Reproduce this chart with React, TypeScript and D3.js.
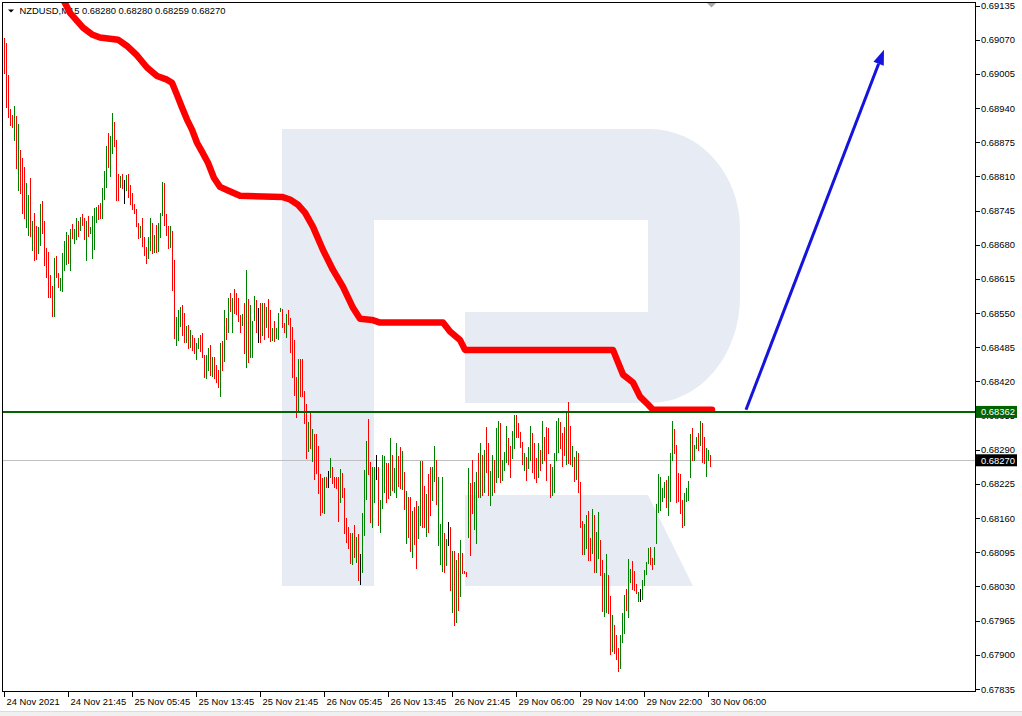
import React from "react";
import * as d3 from "d3";

// ---------------- DATA ----------------
const barHigh = [
  0.69074, 0.69064, 0.69003, 0.68939, 0.68927, 0.68944, 0.68924, 0.6891, 0.68861, 0.68845,
  0.68828, 0.68798, 0.68775, 0.68806, 0.68726, 0.68741, 0.68716, 0.68714, 0.68758, 0.68764,
  0.68726, 0.68674, 0.68667, 0.68623, 0.68602, 0.68655, 0.68659, 0.68627, 0.68617, 0.68665,
  0.68688, 0.68705, 0.68699, 0.6871, 0.6872, 0.6871, 0.68731, 0.68726, 0.68733, 0.68739,
  0.68731, 0.68726, 0.68735, 0.68714, 0.68735, 0.6875, 0.68752, 0.68756, 0.6876, 0.68788,
  0.68821, 0.68868, 0.68893, 0.68887, 0.68931, 0.68914, 0.6888, 0.68815, 0.68811, 0.68815,
  0.68804, 0.68813, 0.68815, 0.68794, 0.68779, 0.68758, 0.68747, 0.68722, 0.68716, 0.68731,
  0.68695, 0.68676, 0.68695, 0.68731, 0.68722, 0.68699, 0.68718, 0.68722, 0.68741, 0.688,
  0.68798, 0.68739, 0.68716, 0.68716, 0.68707, 0.6865, 0.68543, 0.68556, 0.68562, 0.68566,
  0.68551, 0.68526, 0.68528, 0.68518, 0.68509, 0.68503, 0.68494, 0.68503, 0.68509, 0.68513,
  0.68471, 0.68471, 0.68484, 0.6849, 0.68467, 0.68467, 0.68452, 0.68442, 0.68494, 0.68497,
  0.68556, 0.68541, 0.68579, 0.68589, 0.68579, 0.68596, 0.68589, 0.68579, 0.68547, 0.68549,
  0.6857, 0.68631, 0.68577, 0.68566, 0.68535, 0.68583, 0.68575, 0.6856, 0.6857, 0.6857,
  0.6857, 0.68562, 0.68577, 0.68556, 0.68522, 0.68535, 0.68522, 0.68551, 0.6856, 0.68558,
  0.68532, 0.68549, 0.68556, 0.68541, 0.68524, 0.68499, 0.68429, 0.68463, 0.68463, 0.68463,
  0.68402, 0.68378, 0.68343, 0.68362, 0.6833, 0.6832, 0.6832, 0.68298, 0.68244, 0.68237,
  0.68239, 0.68239, 0.6825, 0.68275, 0.68258, 0.68239, 0.68239, 0.68239, 0.68254, 0.68246,
  0.68218, 0.68161, 0.68144, 0.68132, 0.68132, 0.68146, 0.68125, 0.6813, 0.68092, 0.6817,
  0.68252, 0.68307, 0.68349, 0.68267, 0.68258, 0.68258, 0.68281, 0.68258, 0.68195, 0.68281,
  0.68279, 0.68265, 0.68265, 0.68313, 0.68281, 0.68256, 0.68302, 0.68279, 0.68296, 0.68288,
  0.68248, 0.68212, 0.68201, 0.68201, 0.68174, 0.68182, 0.68193, 0.68184, 0.68269, 0.68269,
  0.68222, 0.68206, 0.68244, 0.68258, 0.68258, 0.68298, 0.68271, 0.68239, 0.68149, 0.68239,
  0.68132, 0.68121, 0.68153, 0.68144, 0.68098, 0.68098, 0.68081, 0.68094, 0.68119, 0.68094,
  0.6806, 0.68058, 0.68256, 0.68227, 0.68271, 0.68229, 0.68248, 0.68284, 0.68303, 0.68281,
  0.6829, 0.68334, 0.68303, 0.6825, 0.68281, 0.68271, 0.68332, 0.68345, 0.6834, 0.68271,
  0.68286, 0.68336, 0.68313, 0.68298, 0.68326, 0.68357, 0.68357, 0.68341, 0.68324, 0.68305,
  0.68284, 0.68277, 0.68296, 0.68336, 0.68322, 0.68303, 0.68275, 0.68302, 0.6829, 0.68345,
  0.68315, 0.68334, 0.68332, 0.68263, 0.68258, 0.68284, 0.68345, 0.68351, 0.68343, 0.68322,
  0.68334, 0.6836, 0.68381, 0.68336, 0.68298, 0.68277, 0.68288, 0.68284, 0.68229, 0.68155,
  0.68149, 0.68166, 0.68174, 0.68123, 0.68178, 0.68165, 0.68134, 0.68172, 0.68119, 0.68081,
  0.68056, 0.68092, 0.68052, 0.68011, 0.67976, 0.67957, 0.67938, 0.67913, 0.67938, 0.6798,
  0.68014, 0.68026, 0.68083, 0.68064, 0.68079, 0.6806, 0.68035, 0.6802, 0.68026, 0.68043,
  0.68062, 0.68077, 0.68104, 0.68106, 0.68085, 0.68106, 0.68187, 0.68243, 0.68239, 0.68218,
  0.68229, 0.68233, 0.68241, 0.68283, 0.68345, 0.6833, 0.683, 0.68246, 0.68244, 0.68195,
  0.68208, 0.68218, 0.68231, 0.6832, 0.68332, 0.683, 0.68315, 0.68322, 0.68345, 0.6834,
  0.68315, 0.68294, 0.6829, 0.6828,
];

const barLow = [
  0.69007, 0.68941, 0.68922, 0.68908, 0.68904, 0.6888, 0.68826, 0.68785, 0.68779, 0.68741,
  0.68731, 0.68714, 0.68699, 0.68697, 0.6867, 0.68651, 0.68653, 0.68665, 0.6868, 0.68703,
  0.68642, 0.68619, 0.68581, 0.68581, 0.68545, 0.68545, 0.68619, 0.686, 0.68594, 0.68592,
  0.68632, 0.68644, 0.68646, 0.68632, 0.68693, 0.68684, 0.6869, 0.68697, 0.68708, 0.68718,
  0.68691, 0.68651, 0.68697, 0.68703, 0.68655, 0.68672, 0.68724, 0.68729, 0.68731, 0.68731,
  0.68767, 0.6879, 0.68828, 0.68811, 0.68855, 0.68868, 0.68766, 0.68766, 0.6879, 0.68787,
  0.6876, 0.68785, 0.68771, 0.68758, 0.68747, 0.68741, 0.68716, 0.68693, 0.68695, 0.68678,
  0.68661, 0.68646, 0.68655, 0.6867, 0.68665, 0.68667, 0.68667, 0.68669, 0.68695, 0.68737,
  0.68718, 0.68699, 0.68674, 0.68676, 0.68594, 0.68503, 0.6849, 0.68499, 0.68526, 0.68509,
  0.68495, 0.68495, 0.68484, 0.68486, 0.6848, 0.68475, 0.68463, 0.68484, 0.68478, 0.68467,
  0.68429, 0.68427, 0.68442, 0.68433, 0.68431, 0.68427, 0.68418, 0.6841, 0.68393, 0.68442,
  0.68459, 0.68501, 0.68514, 0.68553, 0.68514, 0.68551, 0.68549, 0.68535, 0.68514, 0.68528,
  0.68475, 0.68448, 0.68457, 0.68467, 0.68467, 0.68537, 0.68514, 0.68495, 0.68495, 0.68509,
  0.68501, 0.68524, 0.68505, 0.68497, 0.68499, 0.68497, 0.68503, 0.68501, 0.68554, 0.68524,
  0.68514, 0.68505, 0.6853, 0.68476, 0.68429, 0.68395, 0.68353, 0.68362, 0.68393, 0.68393,
  0.6834, 0.68275, 0.68288, 0.68294, 0.68269, 0.68235, 0.68246, 0.68208, 0.68165, 0.68172,
  0.6817, 0.6822, 0.6822, 0.68239, 0.68227, 0.6822, 0.68218, 0.68155, 0.68191, 0.68201,
  0.68132, 0.68115, 0.68104, 0.68075, 0.68073, 0.68087, 0.68077, 0.68043, 0.68035, 0.68058,
  0.68128, 0.68197, 0.68243, 0.68153, 0.68144, 0.68191, 0.68235, 0.68147, 0.68134, 0.6818,
  0.6821, 0.68191, 0.68199, 0.68204, 0.68214, 0.6821, 0.68201, 0.68222, 0.68218, 0.68216,
  0.68178, 0.68113, 0.68125, 0.68098, 0.68087, 0.68111, 0.68066, 0.68123, 0.68147, 0.68144,
  0.68144, 0.68126, 0.68134, 0.68165, 0.68195, 0.68231, 0.68187, 0.68109, 0.68073, 0.6806,
  0.68058, 0.68071, 0.68108, 0.68024, 0.67982, 0.67957, 0.67963, 0.67986, 0.68011, 0.68056,
  0.68056, 0.6805, 0.68125, 0.68089, 0.6817, 0.6814, 0.68113, 0.68201, 0.68201, 0.68204,
  0.6821, 0.68248, 0.68204, 0.68185, 0.68204, 0.6821, 0.68229, 0.68239, 0.68229, 0.68233,
  0.68252, 0.68267, 0.68262, 0.68239, 0.68275, 0.68294, 0.68315, 0.68315, 0.68296, 0.68262,
  0.68252, 0.68233, 0.68256, 0.68271, 0.68248, 0.68237, 0.68229, 0.68239, 0.68252, 0.68265,
  0.68271, 0.68233, 0.68284, 0.68201, 0.68204, 0.6821, 0.68271, 0.68286, 0.68294, 0.6826,
  0.68281, 0.68262, 0.68265, 0.68262, 0.6826, 0.68231, 0.68235, 0.6821, 0.68144, 0.68092,
  0.68092, 0.68104, 0.68081, 0.68081, 0.68094, 0.68058, 0.68058, 0.68085, 0.68052, 0.67984,
  0.67974, 0.67982, 0.6798, 0.67902, 0.67908, 0.67904, 0.67893, 0.6787, 0.67875, 0.67925,
  0.67942, 0.67986, 0.67972, 0.68039, 0.68026, 0.68024, 0.68018, 0.68003, 0.68003, 0.68007,
  0.68033, 0.68054, 0.68075, 0.68073, 0.68064, 0.68073, 0.68113, 0.68172, 0.68176, 0.68193,
  0.68201, 0.68182, 0.68166, 0.68193, 0.68271, 0.68283, 0.68191, 0.68193, 0.6817, 0.68144,
  0.68146, 0.68193, 0.68195, 0.68239, 0.68271, 0.68271, 0.68294, 0.6829, 0.683, 0.68267,
  0.68265, 0.68241, 0.68271, 0.68259,
];

// r = bearish bar, g = bullish bar, k = unchanged
const barDir = (
  "rrrrrgrgrr" + "rggrgrrggr" + "rrrrrgrrgg" + "ggrgrggrgr" + "rgrggggrrg" +
  "ggrggrrrgr" + "kgrrrrrrgr" + "rrggrgrggg" + "rrrgrrgggr" + "rgrgrrggrr" +
  "rggrgrrrgr" + "grgrgrrrrg" + "rgrgggrkrg" + "rgrrgrgggr" + "rgrrrrrgrr" +
  "rrgrgrrrrr" + "grkgrrrrgr" + "rrrrgrgrkg" + "ggrrggkrgg" + "grrgrggrrg" +
  "rgrrgrrggr" + "rgrrggrggg" + "rgkrgrgrgr" + "rrgrrggrgr" + "grrggrggrg" +
  "ggrrggrrrr" + "grggrrrgrg" + "rrrrggggrr" + "rgrrgrgrrr" + "ggrrgrggrr" +
  "ggrrgrrrgg" + "grggrrrgkg" + "gggrrggggg" + "grgggrrrrr" + "ggggrggrgr" +
  "rggr"
).split("");

const priceTicks = [
  0.69135, 0.6907, 0.69005, 0.6894, 0.68875, 0.6881, 0.68745, 0.6868, 0.68615, 0.6855,
  0.68485, 0.6842, 0.68355, 0.6829, 0.68225, 0.6816, 0.68095, 0.6803, 0.67965, 0.679, 0.67835,
];

const timeTickIndex = [0, 32, 64, 96, 128, 160, 192, 224, 256, 288, 320, 352];
const timeTickLabels = [
  "24 Nov 2021", "24 Nov 21:45", "25 Nov 05:45", "25 Nov 13:45", "25 Nov 21:45",
  "26 Nov 05:45", "26 Nov 13:45", "26 Nov 21:45", "29 Nov 06:00", "29 Nov 14:00",
  "29 Nov 22:00", "30 Nov 06:00",
];

// thick red indicator line (bar index, price)
const indicatorIndex = [
  27, 31, 33, 39.5, 44, 48, 57, 61.5, 66.5, 71.5, 76.5, 81.5, 84, 86.5, 89, 91.5, 94, 96.5, 99,
  102, 105, 108, 112, 118, 139, 143, 147, 150.5, 154.5, 159.5, 164.5, 169.5, 174.5, 178, 184,
  188, 219.5, 223, 228, 230.5, 304.5, 306.5, 309.5, 314.5, 318, 322, 324.5, 354,
];
const indicatorValue = [
  0.69165, 0.69136, 0.69121, 0.69093, 0.6908, 0.69074, 0.6907, 0.69058, 0.6904, 0.69017,
  0.69001, 0.68994, 0.68988, 0.68965, 0.68941, 0.68918, 0.68899, 0.68874, 0.68857, 0.68836,
  0.68807, 0.6879, 0.68783, 0.68773, 0.68771, 0.68766, 0.68756, 0.68741, 0.68714, 0.6867,
  0.68632, 0.686, 0.6856, 0.68539, 0.68537, 0.68532, 0.68532, 0.68515, 0.68499, 0.6848,
  0.6848, 0.68461, 0.68433, 0.68418, 0.68391, 0.68376, 0.68366, 0.68366,
];

const arrowIndex = [371, 440];
const arrowValue = [0.68366, 0.69051];

const levelPrice = 0.68362;
const lastPrice = 0.6827;
const headerText = "NZDUSD,M15  0.68280 0.68280 0.68259 0.68270";

const FONT = "'Liberation Sans', Arial, sans-serif";

export default function App() {
  const left = 2.5, right = 975.5, top = 2.5, bottom = 691.5;
  const x = d3.scaleLinear().domain([0, 353]).range([4, 710]);
  const y = d3.scaleLinear().domain([0.67835, 0.69135]).range([689, 5.5]);
  const colorOf: Record<string, string> = { r: "#ff0000", g: "#008000", k: "#000000" };

  const indLine = d3
    .line<number>()
    .x((_, i) => x(indicatorIndex[i]))
    .y((v) => y(v))(indicatorValue) as string;

  const ax0 = x(arrowIndex[0]), ay0 = y(arrowValue[0]);
  const ax1 = x(arrowIndex[1]), ay1 = y(arrowValue[1]);
  const ang = Math.atan2(ay1 - ay0, ax1 - ax0);
  const headLen = 15, headHalf = 5.5;
  const bx = ax1 - headLen * Math.cos(ang), by = ay1 - headLen * Math.sin(ang);
  const px = -Math.sin(ang), py = Math.cos(ang);
  const head = `M${ax1},${ay1} L${bx + px * headHalf},${by + py * headHalf} L${bx - px * headHalf},${by - py * headHalf} Z`;

  const wm = "#e6ebf4";

  return (
    <svg
      width={1022}
      height={716}
      style={{ position: "absolute", left: 0, top: 0, background: "#fff" }}
    >
      <rect x={0} y={0} width={1022} height={716} fill="#fff" />
      <defs>
        <clipPath id="plot">
          <rect x={left + 0.5} y={top + 0.5} width={right - left - 1} height={bottom - top - 1} />
        </clipPath>
      </defs>

      {/* watermark */}
      <g fill={wm}>
        <path d="M282,129 H650 A90,100 0 0 1 740,229 V297 A90,106 0 0 1 650,403 H465 V312 H648 V220 H374 V586 H282 Z" />
        <path d="M465,495 H648 L693,586 H465 Z" />
      </g>

      {/* header */}
      <path d="M8,9.5 L14,9.5 L11,12.5 Z" fill="#000" />
      <text x={19.5} y={14} fontFamily={FONT} fontSize={9.4} fill="#000">
        {headerText}
      </text>

      <g clipPath="url(#plot)">
        {/* current price line */}
        <line x1={left} x2={right} y1={Math.round(y(lastPrice)) + 0.5} y2={Math.round(y(lastPrice)) + 0.5} stroke="#c0c0c0" strokeWidth={1} />

        {/* bars */}
        <g shapeRendering="crispEdges">
          {barHigh.map((h, i) => {
            const xx = Math.round(x(i)) + 0.5;
            const y1 = Math.round(y(h));
            let y2 = Math.round(y(barLow[i]));
            if (y2 - y1 < 1) y2 = y1 + 1;
            return (
              <line key={i} x1={xx} x2={xx} y1={y1} y2={y2 + 1} stroke={colorOf[barDir[i]]} strokeWidth={1} />
            );
          })}
        </g>

        {/* indicator */}
        <path d={indLine} fill="none" stroke="#ff0000" strokeWidth={6.5} strokeLinejoin="round" strokeLinecap="round" />

        {/* level line */}
        <line x1={left} x2={right} y1={y(levelPrice)} y2={y(levelPrice)} stroke="#006400" strokeWidth={2} />

        {/* forecast arrow */}
        <line x1={ax0} y1={ay0} x2={bx} y2={by} stroke="#1414dc" strokeWidth={3} />
        <path d={head} fill="#1414dc" />
      </g>

      {/* chart shift marker */}
      <path d={`M${x(353) - 3},3 L${x(353) + 6},3 L${x(353) + 1.5},7.5 Z`} fill="#a8a8a8" />

      {/* frame */}
      <rect x={left} y={top} width={right - left} height={bottom - top} fill="none" stroke="#000" strokeWidth={1} shapeRendering="crispEdges" />

      {/* price axis */}
      <g fontFamily={FONT} fontSize={9.4} fill="#000">
        {priceTicks.map((p) => (
          <g key={p}>
            <line x1={right} x2={right + 4} y1={Math.round(y(p)) + 0.5} y2={Math.round(y(p)) + 0.5} stroke="#000" shapeRendering="crispEdges" />
            <text x={981} y={y(p)} dominantBaseline="central">
              {p.toFixed(5)}
            </text>
          </g>
        ))}
      </g>

      {/* price labels */}
      <rect x={976} y={y(levelPrice) - 6} width={41} height={12} fill="#006400" />
      <text x={981} y={y(levelPrice)} dominantBaseline="central" fontFamily={FONT} fontSize={9.4} fill="#fff">
        {levelPrice.toFixed(5)}
      </text>
      <rect x={976} y={y(lastPrice) - 6} width={41} height={12} fill="#000" />
      <text x={981} y={y(lastPrice)} dominantBaseline="central" fontFamily={FONT} fontSize={9.4} fill="#fff">
        {lastPrice.toFixed(5)}
      </text>

      {/* time axis */}
      <g fontFamily={FONT} fontSize={9.4} fill="#000">
        {timeTickIndex.map((t, k) => {
          const xx = Math.round(x(t)) + 0.5;
          return (
            <g key={t}>
              <line x1={xx} x2={xx} y1={bottom} y2={bottom + 5} stroke="#000" shapeRendering="crispEdges" />
              <text x={xx + 2} y={705}>
                {timeTickLabels[k]}
              </text>
            </g>
          );
        })}
      </g>

      {/* bottom strip */}
      <rect x={0} y={711} width={1022} height={5} fill="#f0f0f0" />
      <line x1={0} x2={1022} y1={711.5} y2={711.5} stroke="#dcdcdc" />
    </svg>
  );
}
